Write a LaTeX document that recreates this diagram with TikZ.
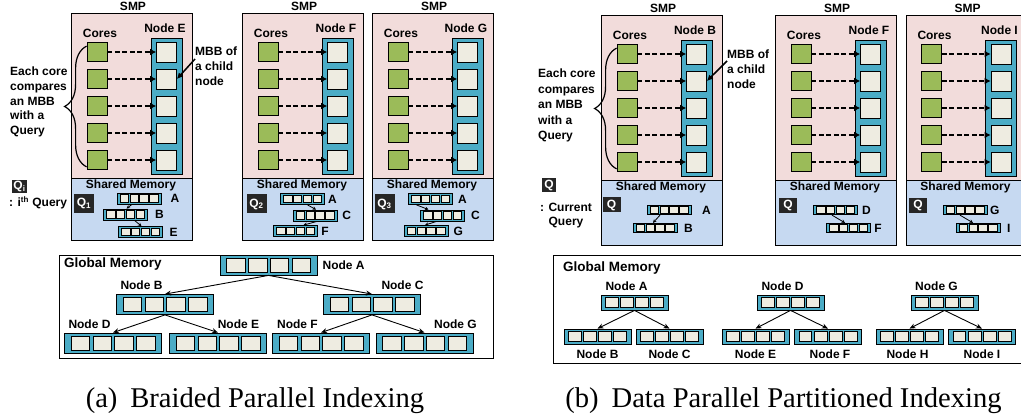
\documentclass[tikz,border=0pt]{standalone}
\usepackage{fontspec}
\setmainfont{Liberation Serif}
\newfontfamily\lblfont{Liberation Sans}
\usetikzlibrary{positioning}
\usetikzlibrary{arrows.meta}
\usetikzlibrary{decorations.pathreplacing}
\definecolor{smppink}{HTML}{F2DCDB}
\definecolor{smpblue}{HTML}{C6D9F1}
\definecolor{nodeteal}{HTML}{4BACC6}
\definecolor{cellcream}{HTML}{EEECE1}
\definecolor{coregreen}{HTML}{9BBB59}
\definecolor{qblack}{HTML}{262626}
\tikzset{lbl/.style = {font=\lblfont\bfseries\fontsize{12}{14.7}\selectfont, inner sep=0}}
\tikzset{gmlbl/.style = {font=\lblfont\bfseries\fontsize{13.5}{15}\selectfont, inner sep=0}}
\tikzset{core/.style = {draw, fill=coregreen, line width=0.8pt, minimum width=20pt, minimum height=19pt, inner sep=0}}
\tikzset{column/.style = {draw, fill=nodeteal, line width=0.8pt, minimum width=31pt, minimum height=136pt, inner sep=0}}
\tikzset{mbb/.style = {draw, fill=cellcream, line width=0.8pt, minimum size=20pt, inner sep=0}}
\tikzset{rowbox/.style = {draw, fill=nodeteal, line width=0.8pt, inner sep=0}}
\tikzset{cellbox/.style = {draw, fill=cellcream, line width=0.6pt, inner sep=0}}
\tikzset{qbox/.style = {fill=qblack, text=white, font=\lblfont\bfseries\fontsize{12}{12}\selectfont, inner sep=0}}
\tikzset{dasharrow/.style = {line width=1.8pt, dash pattern=on 5pt off 2.5pt, -{Latex[length=6pt,width=7pt]}}}
\tikzset{callout/.style = {line width=1.5pt, -{Latex[length=6pt,width=6pt]}}}
\tikzset{tree/.style = {line width=0.9pt, -{Stealth[length=6pt,width=5pt]}}}
\tikzset{hop/.style = {line width=0.8pt, -{Stealth[length=3.5pt,width=3.5pt]}}}
\tikzset{bigbrace/.style = {line width=1.2pt, decorate, decoration={brace, amplitude=22pt}}}
% one SMP: left, top, node label, name, height
\newcommand{\smpbox}[5]{%
  \node[draw, fill=smppink, line width=1pt, anchor=north west, minimum width=121pt, minimum height=165pt, inner sep=0] (#4top) at (#1,#2) {};
  \node[draw, fill=smpblue, line width=1pt, anchor=north west, minimum width=121pt, minimum height=#5pt-165pt, inner sep=0] (#4shm) at (#1,#2+165) {};
  \node[lbl] at (#1+62,#2-6.5) {SMP};
  \node[lbl] at (#1+29,#2+20) {Cores};
  \node[lbl] at (#1+94,#2+15) {#3};
  \node[lbl] at (#1+60,#2+172) {Shared Memory};
  \node[column, anchor=north] (#4col) at (#1+95.5,#2+25) {};
  \foreach \k in {0,...,4} {
    \node[core] (#4c\k) at (#1+26,#2+39+27*\k) {};
    \node[mbb] (#4m\k) at (#1+95.5,#2+39+27*\k) {};
    \draw[dasharrow] (#4c\k) -- (#4m\k);
  }
}
% a tree node of four MBBs: name, x, y, width, height
\newcommand{\noderow}[5]{%
  \node[rowbox, minimum width=#4pt, minimum height=#5pt] (#1) at (#2,#3) {};
  \foreach \k in {1,...,4}
    \node[cellbox, minimum width=0.19*#4pt, minimum height=0.68*#5pt] (#1-\k) at ({#2+(\k-2.5)*0.225*#4},#3) {};
}

\begin{document}
\begin{tikzpicture}[x=1pt, y=-1pt]
  \clip (0,0) rectangle (1021,417);

  % (a) braided parallel indexing
  \smpbox{71}{13}{Node E}{smpaE}{227}
  \smpbox{242}{13}{Node F}{smpaF}{227}
  \smpbox{372}{13}{Node G}{smpaG}{227}

  \draw[bigbrace] ([yshift=3pt]smpaEc4.south west) -- ([yshift=-4pt]smpaEc0.north west);
  \node[lbl, align=left, anchor=north west] (cmpa) at (10,67) {Each core\\compares\\an MBB\\with a\\Query};
  \node[lbl, align=left, anchor=north west] (mbba) at (195,47) {MBB of\\a child\\node};
  \draw[callout] ([yshift=-12pt]mbba.north west) -- (smpaEm1.east);

  \node[qbox, minimum width=15pt, minimum height=13pt] (qikey) at (19.5,186.5) {Q\textsubscript{i}};
  \node[lbl, anchor=west] (qitext) at (9,203) {: i\textsuperscript{th} Query};

  \node[qbox, minimum width=20pt, minimum height=19pt] (qa1) at (84,203.5) {Q\textsubscript{1}};
  \node[qbox, minimum width=20pt, minimum height=19pt] (qa2) at (256.5,204) {Q\textsubscript{2}};
  \node[qbox, minimum width=20pt, minimum height=19pt] (qa3) at (384.5,204) {Q\textsubscript{3}};

  \noderow{aEA}{139}{198.5}{44}{11}
  \noderow{aEB}{125.5}{214.5}{44}{11}
  \noderow{aEE}{140.5}{232}{44}{11}
  \node[lbl, right=9pt of aEA] {A};
  \node[lbl, right=7pt of aEB] {B};
  \node[lbl, right=6.5pt of aEE] {E};
  \draw[hop] ([xshift=-7pt]aEA.south) -- ([xshift=1pt]aEB.north);
  \draw[hop] ([xshift=9pt]aEB.south) -- ([xshift=1pt]aEE.north);

  \noderow{aFA}{302.5}{199}{44}{11}
  \noderow{aFC}{315}{215.5}{44}{11}
  \noderow{aFF}{295.5}{231}{44}{11}
  \node[lbl, right=3pt of aFA] {A};
  \node[lbl, right=4.7pt of aFC] {C};
  \node[lbl, right=3.3pt of aFF] {F};
  \draw[hop] ([xshift=5pt]aFA.south) -- ([xshift=1pt]aFC.north);
  \draw[hop] ([xshift=2pt]aFC.south) -- ([xshift=8pt]aFF.north);

  \noderow{aGA}{430.5}{199}{44}{11}
  \noderow{aGC}{442.5}{215.5}{44}{11}
  \noderow{aGG}{426}{231}{44}{11}
  \node[lbl, right=5pt of aGA] {A};
  \node[lbl, right=6pt of aGC] {C};
  \node[lbl, right=5pt of aGG] {G};
  \draw[hop] ([xshift=-14pt]aGA.south) -- ([xshift=-14pt]aGC.north);
  \draw[hop] ([xshift=-6pt]aGC.south) -- ([xshift=-1pt]aGG.north);

  % global memory (a)
  \node[draw, line width=1pt, anchor=north west, minimum width=434pt, minimum height=103pt, inner sep=0] (gmema) at (59,255) {};
  \node[gmlbl, anchor=west] at (64,264) {Global Memory};
  \noderow{gaA}{268.5}{265}{97}{20}
  \noderow{gaB}{165}{304.5}{97}{20}
  \noderow{gaC}{372}{304.5}{97}{20}
  \noderow{gaD}{113}{343}{97}{20}
  \noderow{gaE}{218}{343}{97}{20}
  \noderow{gaF}{321}{343}{97}{20}
  \noderow{gaG}{424.5}{343}{97}{20}
  \node[lbl, right=5pt of gaA] {Node A};
  \node[lbl, above=4pt of gaB, xshift=-23.5pt] {Node B};
  \node[lbl, above=4pt of gaC, xshift=30.5pt] {Node C};
  \node[lbl, above=4pt of gaD, xshift=-23.5pt] {Node D};
  \node[lbl, above=4pt of gaE, xshift=20.5pt] {Node E};
  \node[lbl, above=4pt of gaF, xshift=-23.5pt] {Node F};
  \node[lbl, above=4pt of gaG, xshift=31pt] {Node G};
  \draw[tree] (gaA.south) -- (gaB.north);
  \draw[tree] (gaA.south) -- (gaC.north);
  \draw[tree] (gaB.south) -- (gaD.north);
  \draw[tree] (gaB.south) -- (gaE.north);
  \draw[tree] (gaC.south) -- (gaF.north);
  \draw[tree] (gaC.south) -- (gaG.north);

  \node[font=\fontsize{28.6}{30}\selectfont] (capa) at (255,401) {(a)\hspace{0.45em}Braided Parallel Indexing};

  % (b) data parallel partitioned indexing
  \smpbox{601}{15}{Node B}{smpbB}{230}
  \smpbox{775}{15}{Node F}{smpbF}{230}
  \smpbox{905.5}{15}{Node I}{smpbI}{230}

  \draw[bigbrace] ([yshift=3pt]smpbBc4.south west) -- ([yshift=-4pt]smpbBc0.north west);
  \node[lbl, align=left, anchor=north west, font=\lblfont\bfseries\fontsize{12}{15.5}\selectfont] (cmpb) at (538,69) {Each core\\compares\\an MBB\\with a\\Query};
  \node[lbl, align=left, anchor=north west] (mbbb) at (727,50) {MBB of\\a child\\node};
  \draw[callout] ([yshift=-11pt]mbbb.north west) -- (smpbBm1.east);

  \node[qbox, minimum width=14pt, minimum height=14pt] (qkey) at (549,185) {Q};
  \node[lbl, align=center] (qtext) at (566,215.5) {: Current\\Query};

  \node[qbox, minimum width=18pt, minimum height=15pt] (qb1) at (611.5,205) {Q};
  \node[qbox, minimum width=18pt, minimum height=15pt] (qb2) at (788,205.5) {Q};
  \node[qbox, minimum width=18pt, minimum height=15pt] (qb3) at (918,205.5) {Q};

  \noderow{bBA}{669}{210}{44}{9.5}
  \noderow{bBB}{655}{228}{44}{9.5}
  \node[lbl, right=10.5pt of bBA] {A};
  \node[lbl, right=6.5pt of bBB] {B};
  \draw[hop] ([xshift=-9pt]bBA.south) -- ([xshift=-2pt]bBB.north);

  \noderow{bFD}{835.5}{210}{44}{9.5}
  \noderow{bFF}{848.5}{228}{44}{9.5}
  \node[lbl, right=4pt of bFD] {D};
  \node[lbl, right=3.3pt of bFF] {F};
  \draw[hop] ([xshift=-3.5pt]bFD.south) -- ([xshift=-3.5pt]bFF.north);

  \noderow{bIG}{965}{210}{44}{9.5}
  \noderow{bII}{978}{228}{44}{9.5}
  \node[lbl, right=2.5pt of bIG] {G};
  \node[lbl, right=6.5pt of bII] {I};
  \draw[hop] ([xshift=-5pt]bIG.south) -- ([xshift=-5pt]bII.north);

  % global memory (b)
  \node[draw, line width=1pt, anchor=north west, minimum width=470pt, minimum height=108pt, inner sep=0] (gmemb) at (553,255) {};
  \node[gmlbl, anchor=west] at (563,268) {Global Memory};
  \noderow{gbA}{634.5}{302.5}{67}{15}
  \noderow{gbD}{790.5}{302.5}{67}{15}
  \noderow{gbG}{944.5}{302.5}{67}{15}
  \noderow{gbB}{597.5}{336.5}{67}{15}
  \noderow{gbC}{669.5}{336.5}{67}{15}
  \noderow{gbE}{755.5}{336.5}{67}{15}
  \noderow{gbF}{828}{336.5}{67}{15}
  \noderow{gbH}{909.5}{336.5}{67}{15}
  \noderow{gbI}{982}{336.5}{67}{15}
  \node[lbl, above=4pt of gbA, xshift=-8pt] {Node A};
  \node[lbl, above=4pt of gbD, xshift=-8pt] {Node D};
  \node[lbl, above=4pt of gbG, xshift=-8pt] {Node G};
  \node[lbl, below=5pt of gbB] {Node B};
  \node[lbl, below=5pt of gbC] {Node C};
  \node[lbl, below=5pt of gbE] {Node E};
  \node[lbl, below=5pt of gbF, xshift=2pt] {Node F};
  \node[lbl, below=5pt of gbH, xshift=-2pt] {Node H};
  \node[lbl, below=5pt of gbI] {Node I};
  \draw[tree] (gbA.south) -- (gbB.north);
  \draw[tree] (gbA.south) -- (gbC.north);
  \draw[tree] (gbD.south) -- (gbE.north);
  \draw[tree] (gbD.south) -- (gbF.north);
  \draw[tree] (gbG.south) -- (gbH.north);
  \draw[tree] (gbG.south) -- (gbI.north);

  \node[font=\fontsize{28.6}{30}\selectfont] (capb) at (783.5,401) {(b)\hspace{0.45em}Data Parallel Partitioned Indexing};
\end{tikzpicture}
\end{document}
